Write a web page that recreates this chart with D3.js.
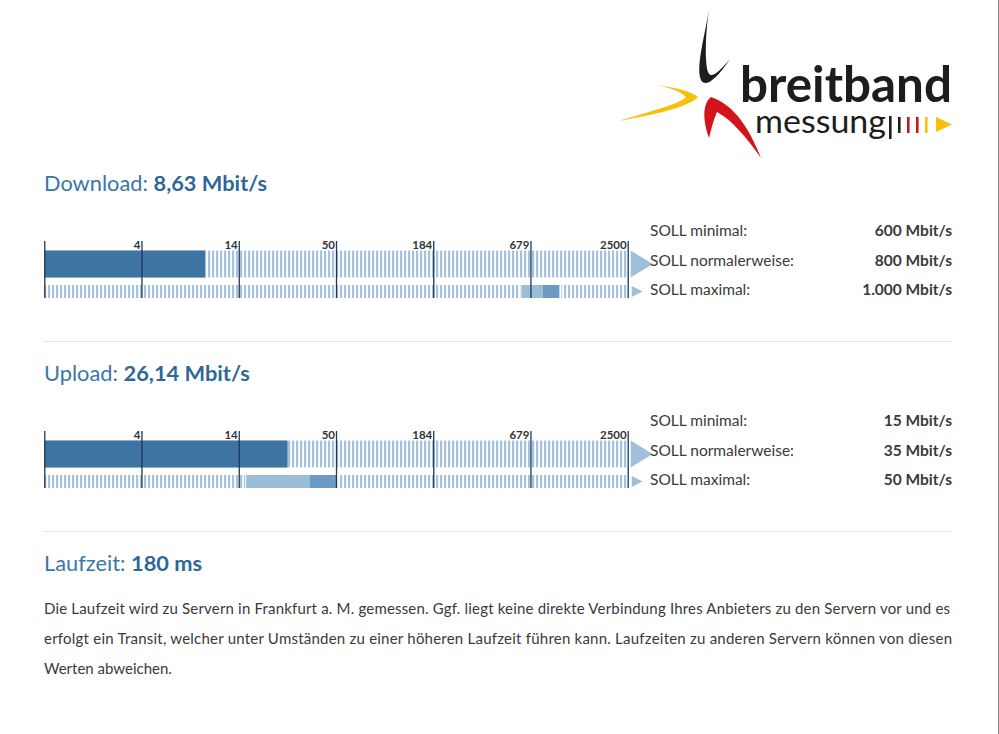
<!DOCTYPE html>
<html><head><meta charset="utf-8">
<script src="https://cdn.jsdelivr.net/npm/d3@7"></script>
<style>
html,body{margin:0;padding:0;background:#fff;}
svg{display:block;font-family:Lato,"Noto Sans",sans-serif;}
</style></head>
<body>
<svg id="c" width="999" height="734"></svg>
<script>
// ---- data ----
const tickValues = [1, 3.68, 13.57, 50, 184.2, 678.6, 2500];
const tickLabels = ["", "4", "14", "50", "184", "679", "2500"];
const sections = ["Download", "Upload"];
const measured = [8.63, 26.14];
const measuredLabels = ["8,63 Mbit/s", "26,14 Mbit/s"];
const sollNames = ["SOLL minimal:", "SOLL normalerweise:", "SOLL maximal:"];
const sollDownload = [600, 800, 1000];
const sollUpload = [15, 35, 50];
const sollDownloadLabels = ["600 Mbit/s", "800 Mbit/s", "1.000 Mbit/s"];
const sollUploadLabels = ["15 Mbit/s", "35 Mbit/s", "50 Mbit/s"];
const latencyLabel = "Laufzeit:";
const latencyValue = "180 ms";
const paragraph = [
  "Die Laufzeit wird zu Servern in Frankfurt a. M. gemessen. Ggf. liegt keine direkte Verbindung Ihres Anbieters zu den Servern vor und es",
  "erfolgt ein Transit, welcher unter Umständen zu einer höheren Laufzeit führen kann. Laufzeiten zu anderen Servern können von diesen",
  "Werten abweichen."
];

const svg = d3.select("#c");
const C = {title:"#3a77a8", titleBold:"#2f6797", bar:"#3d74a2", tick:"#1f3855", stripe:"#a6c3dc",
           sollLight:"#9cbdd8", sollDark:"#6b9bc3", tri:"#9fc0da", text:"#3a3a3a", sep:"#e3e6e9"};

// stripe pattern
const defs = svg.append("defs");
const pat = defs.append("pattern").attr("id","stripes").attr("patternUnits","userSpaceOnUse")
  .attr("width",4).attr("height",10);
pat.append("rect").attr("x",0).attr("y",0).attr("width",2.2).attr("height",10).attr("fill",C.stripe);

const x = d3.scaleLog().domain([1, 2500]).range([44.3, 627.7]);

// ---- logo ----
const logo = svg.append("g");
logo.append("path").attr("fill","#1d1d1b")
  .attr("d","M709,9 C705,35 697,62 700,77 C702,88 713,85 730,59 C717,74 711,79 708,72 C705,62 705,38 709,9 Z");
logo.append("path").attr("fill","#f4c20d")
  .attr("d","M657,85 C678,88 693,92 698,97 C690,106 660,114 618,121 C652,111 679,104 686,97 C681,92 671,88 657,85 Z");
logo.append("path").attr("fill","#d3151b")
  .attr("d","M711,97 C735,105 750,130 761,158 C746,137 732,120 717,112 C713,121 711,130 709,138 C703,121 702,104 711,97 Z");
logo.append("text").attr("x",740).attr("y",102).attr("font-size",50).attr("font-weight",700)
  .attr("fill","#1d1d1b").attr("textLength",212).attr("lengthAdjust","spacingAndGlyphs").text("breitband");
logo.append("text").attr("x",755).attr("y",133).attr("font-size",32).attr("font-weight",400)
  .attr("fill","#1d1d1b").attr("textLength",131).attr("lengthAdjust","spacingAndGlyphs").text("messung");
const logoBars = [{x:889,y1:116,y2:139,c:"#1d1d1b"},{x:898,y1:117,y2:133,c:"#1d1d1b"},
  {x:907,y1:117,y2:133,c:"#c8161d"},{x:916,y1:117,y2:133,c:"#c8161d"},{x:925,y1:117,y2:133,c:"#f4c20d"}];
logo.selectAll("rect.lb").data(logoBars).join("rect").attr("class","lb")
  .attr("x",d=>d.x).attr("y",d=>d.y1).attr("width",2.6).attr("height",d=>d.y2-d.y1).attr("fill",d=>d.c);
logo.append("path").attr("fill","#f4c20d").attr("d","M936,117 L952,124.5 L936,132 Z");

// ---- sections ----
const sollVals = [sollDownload, sollUpload];
const sollLabs = [sollDownloadLabels, sollUploadLabels];
sections.forEach((name, si) => {
  const g = svg.append("g").attr("transform",`translate(0,${si*190})`);
  const t = g.append("text").attr("x",44).attr("y",191).attr("font-size",21.8);
  t.append("tspan").attr("fill",C.title).text(name + ": ");
  t.append("tspan").attr("fill",C.titleBold).attr("font-weight",700).text(measuredLabels[si]);

  // rows
  const r1 = {y:250.5, h:27}, r2 = {y:285, h:13};
  g.append("rect").attr("x",x(1)).attr("y",r1.y).attr("width",x(2500)-x(1)).attr("height",r1.h).attr("fill","url(#stripes)");
  g.append("rect").attr("x",x(1)).attr("y",r2.y).attr("width",x(2500)-x(1)).attr("height",r2.h).attr("fill","url(#stripes)");
  g.append("rect").attr("x",x(1)).attr("y",r1.y).attr("width",x(measured[si])-x(1)).attr("height",r1.h).attr("fill",C.bar);
  const sv = sollVals[si];
  g.append("rect").attr("x",x(sv[0])-1).attr("y",r2.y).attr("width",x(sv[2])-x(sv[0])+3).attr("height",r2.h).attr("fill","#fff");
  g.append("rect").attr("x",x(sv[0])).attr("y",r2.y).attr("width",x(sv[1])-x(sv[0])).attr("height",r2.h).attr("fill",C.sollLight);
  g.append("rect").attr("x",x(sv[1])).attr("y",r2.y).attr("width",x(sv[2])-x(sv[1])).attr("height",r2.h).attr("fill",C.sollDark);

  // arrows
  g.append("path").attr("fill",C.tri).attr("d",`M${x(2500)+3},${r1.y} L${x(2500)+25},${r1.y+r1.h/2} L${x(2500)+3},${r1.y+r1.h} Z`);
  g.append("path").attr("fill",C.tri).attr("d",`M${x(2500)+4},${r2.y+1} L${x(2500)+15},${r2.y+r2.h/2} L${x(2500)+4},${r2.y+r2.h-1} Z`);

  // axis
  const axis = d3.axisTop(x).tickValues(tickValues).tickFormat((d,i)=>tickLabels[i]).tickSize(-57).tickPadding(0);
  const ag = g.append("g").attr("transform","translate(0,241)").call(axis);
  ag.select(".domain").remove();
  ag.selectAll(".tick line").attr("stroke",C.tick).attr("stroke-width",1.3);
  ag.selectAll(".tick text").attr("text-anchor","end").attr("x",-1.5).attr("y",7.5).attr("dy",0)
    .attr("font-size",11.5).attr("font-weight",700).attr("fill","#333").attr("font-family","Lato,sans-serif");

  // SOLL table
  sollNames.forEach((n, k) => {
    g.append("text").attr("x",650).attr("y",236+k*29.5).attr("font-size",15.5).attr("fill",C.text).text(n);
    g.append("text").attr("x",952).attr("y",236+k*29.5).attr("font-size",15.5).attr("font-weight",700)
      .attr("text-anchor","end").attr("fill",C.text).text(sollLabs[si][k]);
  });
  // separator
  g.append("line").attr("x1",44).attr("x2",952).attr("y1",341.5).attr("y2",341.5).attr("stroke",C.sep).attr("stroke-width",1.2);
});

// latency
const lt = svg.append("text").attr("x",44).attr("y",571).attr("font-size",21.8);
lt.append("tspan").attr("fill",C.title).text(latencyLabel + " ");
lt.append("tspan").attr("fill",C.titleBold).attr("font-weight",700).text(latencyValue);

const pw = [906, 908, null];
paragraph.forEach((line, i) => {
  const t = svg.append("text").attr("x",44).attr("y",614+i*30).attr("font-size",15).attr("fill",C.text).text(line);
  if (pw[i]) t.attr("textLength",pw[i]).attr("lengthAdjust","spacing");
});

// right border
svg.append("line").attr("x1",998.5).attr("x2",998.5).attr("y1",0).attr("y2",734).attr("stroke","#8a8a8a").attr("stroke-width",1);
</script>
</body></html>
